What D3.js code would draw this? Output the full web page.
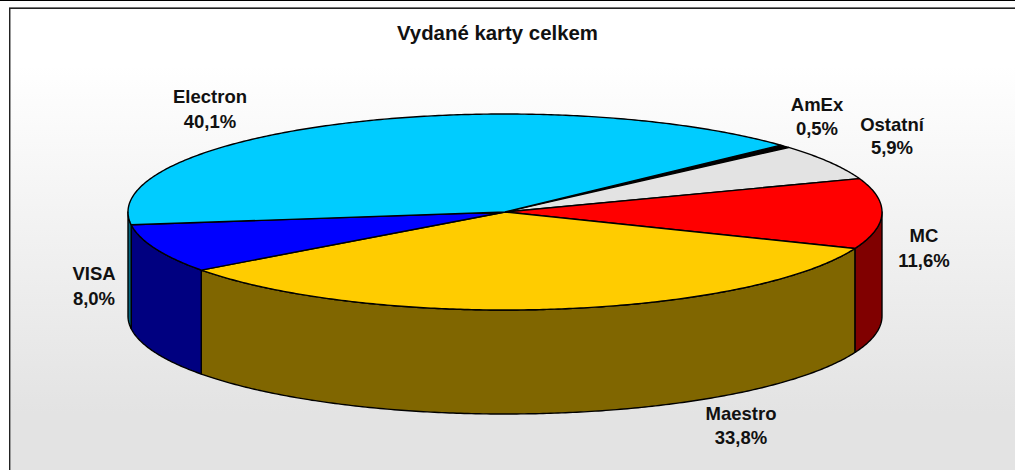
<!DOCTYPE html>
<html><head><meta charset="utf-8">
<script src="https://cdn.jsdelivr.net/npm/d3@7"></script>
<style>html,body{margin:0;padding:0;background:#fff;overflow:hidden}svg{display:block}</style>
</head><body><script>
const categories=["AmEx","Ostatní","MC","Maestro","VISA","Electron"];
const shares=[0.5,5.9,11.6,33.8,8.0,40.1];
const shareLabels=["0,5%","5,9%","11,6%","33,8%","8,0%","40,1%"];
const topColors=["#000000","#e3e3e3","#ff0000","#ffcc00","#0000ff","#00ccff"];
const sideColors=["#000000","#727272","#800000","#806600","#000080","#006680"];
const labelAnchors=[[817,105,129],[892,125,148],[924,236,261],[741,414,438],[94,274,299],[210,97,122]];
const W=1015,H=470,cx=505,cy=212,rx=377,ry=98,depth=104;
const svg=d3.select("body").append("svg").attr("width",W).attr("height",H);
const defs=svg.append("defs");
const g=defs.append("linearGradient").attr("id","bg").attr("gradientUnits","userSpaceOnUse").attr("x1",0).attr("y1",0).attr("x2",0).attr("y2",H);
g.append("stop").attr("offset",0.14).attr("stop-color","#ffffff");
g.append("stop").attr("offset",0.88).attr("stop-color","#e3e3e3");
svg.append("rect").attr("width",W).attr("height",H).attr("fill","#fff");
svg.append("rect").attr("x",10).attr("y",8).attr("width",W-10).attr("height",H-8).attr("fill","url(#bg)");
svg.append("rect").attr("x",9).attr("y",7).attr("width",W-9).attr("height",1).attr("fill","#777");
svg.append("rect").attr("x",9).attr("y",8).attr("width",W-9).attr("height",1).attr("fill","#222");
svg.append("rect").attr("x",9).attr("y",8).attr("width",1).attr("height",H-8).attr("fill","#222");
svg.append("rect").attr("x",10).attr("y",9).attr("width",1).attr("height",H-9).attr("fill","#999");
svg.append("rect").attr("x",0).attr("y",0).attr("width",W).attr("height",1).attr("fill","#000");
const x=d3.scaleLinear().domain([-1,1]).range([cx-rx,cx+rx]);
const y=d3.scaleLinear().domain([-1,1]).range([cy+ry,cy-ry]);
const pie=d3.pie().sort(null).startAngle(47*Math.PI/180).endAngle((47+360)*Math.PI/180);
const arcs=pie(shares);
const line=d3.line();
const P=(t,dy=0)=>[x(Math.sin(t)),y(Math.cos(t))+dy];
const range=(a,b)=>{const n=Math.max(2,Math.ceil((b-a)/0.01));return d3.range(n+1).map(i=>a+(b-a)*i/n)};
const lo=Math.PI/2,hi=3*Math.PI/2;
arcs.forEach((a,i)=>{
  const s=Math.max(a.startAngle,lo),e=Math.min(a.endAngle,hi);
  if(e<=s)return;
  const ts=range(s,e);
  const pts=ts.map(t=>P(t)).concat(ts.slice().reverse().map(t=>P(t,depth)));
  svg.append("path").attr("d",line(pts)+"Z").attr("fill",sideColors[i]).attr("stroke","#000").attr("stroke-width",1.4).attr("stroke-linejoin","round");
});
arcs.forEach((a,i)=>{
  const pts=[[x(0),y(0)]].concat(range(a.startAngle,a.endAngle).map(t=>P(t)));
  svg.append("path").attr("d",line(pts)+"Z").attr("fill",topColors[i]).attr("stroke","#000").attr("stroke-width",1.4).attr("stroke-linejoin","round");
});
categories.forEach((c,i)=>{
  const [lx,y1,y2]=labelAnchors[i];
  [[c,y1],[shareLabels[i],y2]].forEach(([t,yy])=>svg.append("text").attr("x",lx).attr("y",yy).attr("dy","0.35em").attr("text-anchor","middle")
    .attr("font-family","'Liberation Sans',Arial,sans-serif").attr("font-weight","bold").attr("font-size",18.5).attr("fill","#111").text(t));
});
svg.append("text").attr("x",497.5).attr("y",33).attr("dy","0.35em").attr("text-anchor","middle").attr("font-family","'Liberation Sans',Arial,sans-serif").attr("font-weight","bold").attr("font-size",20.4).attr("fill","#111").text("Vydané karty celkem");
</script></body></html>
